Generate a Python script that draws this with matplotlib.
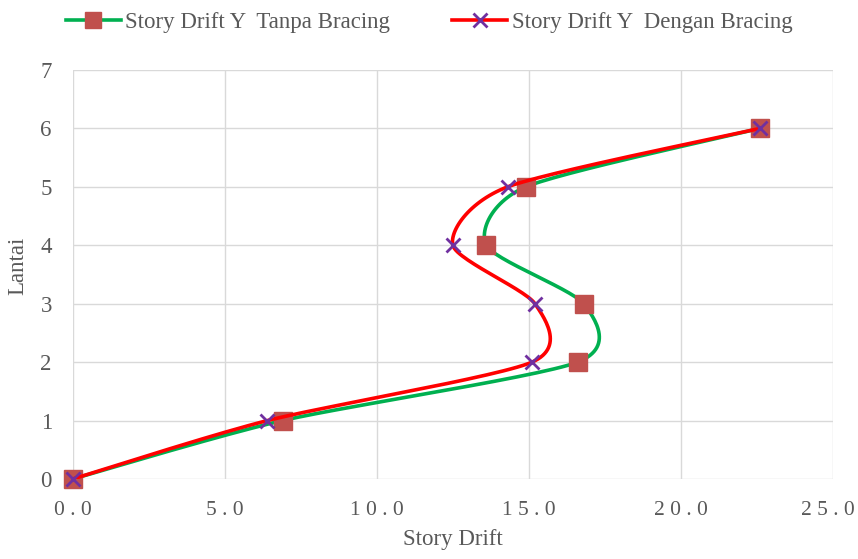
import numpy as np
import matplotlib.pyplot as plt
from matplotlib.transforms import ScaledTranslation

plt.rcParams['font.family'] = ['Liberation Serif', 'DejaVu Serif']

# Data
lantai = [0, 1, 2, 3, 4, 5, 6]
drift_tanpa = [0.0, 6.9, 16.6, 16.8, 13.6, 14.9, 22.6]
drift_dengan = [0.0, 6.4, 15.1, 15.2, 12.5, 14.3, 22.6]

label_tanpa = 'Story Drift Y  Tanpa Bracing'
label_dengan = 'Story Drift Y  Dengan Bracing'


def smooth(xs, ys, k=8.0, n=30):
    # Excel-like smoothing: bezier curve through the points
    p = np.column_stack([xs, ys]).astype(float)
    p = np.vstack([p[0], p, p[-1]])
    out = []
    t = np.linspace(0, 1, n)[:, None]
    for i in range(1, len(p) - 2):
        p0, p1, p2, p3 = p[i - 1], p[i], p[i + 1], p[i + 2]
        c1 = p1 + (p2 - p0) / k
        c2 = p2 - (p3 - p1) / k
        seg = ((1 - t) ** 3) * p1 + 3 * ((1 - t) ** 2) * t * c1 + 3 * (1 - t) * t ** 2 * c2 + t ** 3 * p2
        out.append(seg)
    out = np.vstack(out)
    return out[:, 0], out[:, 1]


fig = plt.figure(figsize=(8.58, 5.59), dpi=100)
ax = fig.add_axes([72.7 / 858, 1 - 479 / 559, (833 - 72.7) / 858, (479 - 70) / 559])

sx, sy = smooth(drift_tanpa, lantai)
ax.plot(sx, sy, color='#00B050', lw=2.6, zorder=3)
ax.plot(drift_tanpa, lantai, ls='none', marker='s', ms=13.5, color='#C0504D', zorder=4, clip_on=False)

sx, sy = smooth(drift_dengan, lantai)
ax.plot(sx, sy, color='#FF0000', lw=2.6, zorder=5)
ax.plot(drift_dengan, lantai, ls='none', marker='x', ms=10, mew=2, color='#7030A0', zorder=6, clip_on=False)

# legend handles
h1, = ax.plot([], [], color='#00B050', lw=2.6, marker='s', ms=11, mfc='#C0504D', mec='#C0504D', label=label_tanpa)
h2, = ax.plot([], [], color='#FF0000', lw=2.6, marker='x', ms=10, mew=2, mec='#7030A0', label=label_dengan)
fig.legend(handles=[h1, h2], loc='center', bbox_to_anchor=(0.5, 1 - 22 / 559), ncol=2, frameon=False,
           fontsize=16.5, handlelength=2.4, handletextpad=0.2, columnspacing=2.7, labelcolor='#595959',
           borderpad=0)

ax.set_xlim(0, 25)
ax.set_ylim(0, 7)
ax.set_xticks(np.arange(0, 26, 5))
ax.set_yticks(range(0, 8))
ax.xaxis.set_major_formatter(plt.FuncFormatter(lambda v, p: ' '.join(f'{v:.1f}')))
ax.grid(True, color='#D9D9D9', lw=1)
ax.set_axisbelow(True)
for s in ax.spines.values():
    s.set_visible(False)
ax.tick_params(length=0, labelsize=16.5, labelcolor='#595959')
ax.tick_params(axis='x', pad=16, labelsize=15.5)
ax.tick_params(axis='y', pad=15)
ax.set_xlabel('Story Drift', fontsize=16.5, color='#595959', labelpad=6)
ax.set_ylabel('Lantai', fontsize=16.5, color='#595959', labelpad=8)
ax.yaxis.set_label_coords(-0.058, 0.52)

# last x label pushed left to stay inside the figure
fig.canvas.draw()
last = ax.get_xticklabels()[-1]
last.set_transform(last.get_transform() + ScaledTranslation(-5 / 100, 0, fig.dpi_scale_trans))

fig.savefig('out.png', dpi=100)
